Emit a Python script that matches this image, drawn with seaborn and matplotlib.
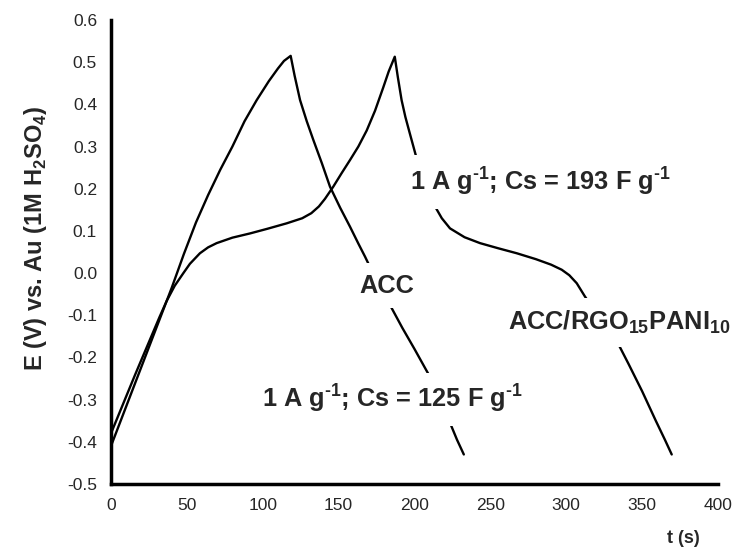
import numpy as np
import pandas as pd
import matplotlib
matplotlib.use("Agg")
import matplotlib.pyplot as plt
import seaborn as sns
from matplotlib.ticker import FormatStrFormatter

# Galvanostatic charge/discharge curves at 1 A/g
acc_t = [0, 8, 16, 24, 32, 40, 48, 56, 64, 72, 80, 88, 96, 104, 110, 114, 118.4,
         121, 124.6, 129, 133.3, 139, 144.3, 151, 157.5, 163, 167.4, 175, 183.9,
         192, 200, 210.2, 217, 223.4, 228, 232.5]
acc_e = [-0.41, -0.335, -0.26, -0.185, -0.11, -0.035, 0.045, 0.12, 0.185, 0.245,
         0.30, 0.36, 0.41, 0.455, 0.485, 0.503, 0.515,
         0.468, 0.41, 0.36, 0.316, 0.26, 0.205, 0.155, 0.11, 0.07, 0.039, -0.018,
         -0.076, -0.13, -0.18, -0.246, -0.298, -0.355, -0.395, -0.43]

rgo_t = [0, 8, 16, 24, 32, 36.7, 42, 47.7, 52, 58.6, 64, 69.6, 80, 91.6, 103,
         115.8, 126, 132, 137, 141, 146.5, 152, 157.5, 163, 168.5, 174, 179.4,
         183, 187,
         189, 191.5, 194, 197, 201.4, 206, 212.4, 218, 223.4, 233, 243.2, 255,
         267.4, 280, 290, 297, 302, 306.9, 312.4, 318, 325, 332, 341, 350, 359,
         365, 369.5]
rgo_e = [-0.38, -0.31, -0.24, -0.172, -0.104, -0.066, -0.03, 0.0, 0.022, 0.047,
         0.061, 0.071, 0.084, 0.094, 0.105, 0.118, 0.13, 0.142, 0.158, 0.176,
         0.205, 0.237, 0.268, 0.30, 0.338, 0.385, 0.44, 0.478, 0.513,
         0.465, 0.41, 0.37, 0.33, 0.272, 0.22, 0.165, 0.13, 0.106, 0.085, 0.071,
         0.059, 0.047, 0.033, 0.02, 0.008, -0.005, -0.024, -0.056, -0.085,
         -0.118, -0.152, -0.215, -0.28, -0.35, -0.395, -0.43]

x_ticks = [0, 50, 100, 150, 200, 250, 300, 350, 400]
y_ticks = [-0.5, -0.4, -0.3, -0.2, -0.1, 0.0, 0.1, 0.2, 0.3, 0.4, 0.5, 0.6]

sns.set_style("white")
plt.rcParams["font.family"] = ["Liberation Sans", "DejaVu Sans"]
plt.rcParams["mathtext.fontset"] = "custom"
plt.rcParams["mathtext.rm"] = "Liberation Sans:bold"
plt.rcParams["mathtext.bf"] = "Liberation Sans:bold"
plt.rcParams["axes.unicode_minus"] = False

fig = plt.figure(figsize=(7.38, 5.48), dpi=100)
ax = fig.add_axes([0.1504, 0.1168, 0.8225, 0.8467])

df_acc = pd.DataFrame({"t": acc_t, "E": acc_e})
df_rgo = pd.DataFrame({"t": rgo_t, "E": rgo_e})
for df in (df_acc, df_rgo):
    sns.lineplot(data=df, x="t", y="E", sort=False, estimator=None,
                 color="black", lw=1.7, ax=ax, zorder=2)

ax.set_xlim(0, 400)
ax.set_ylim(-0.5, 0.6)
ax.set_xticks(x_ticks)
ax.set_yticks(y_ticks)
ax.yaxis.set_major_formatter(FormatStrFormatter("%.1f"))
ax.tick_params(axis="both", direction="out", length=6, width=2.5,
               labelsize=12.5, labelcolor="#262626", color="black", pad=4)

for side in ("top", "right"):
    ax.spines[side].set_visible(False)
for side in ("left", "bottom"):
    ax.spines[side].set_linewidth(2.5)
    ax.spines[side].set_color("black")

ax.set_xlabel("t (s)", fontsize=13, fontweight="bold", ha="right", va="baseline")
ax.xaxis.set_label_coords(0.970, -0.127)
ax.set_ylabel(r"E (V) vs. Au (1M H$_2$SO$_4$)", fontsize=17, fontweight="bold",
              va="center")
ax.yaxis.set_label_coords(-0.125, 0.53)

box = dict(boxstyle="square,pad=0.42", fc="white", ec="none")
fs = 18.3
inv = r"$^{\text{-}1}$"
ax.text(282.7, 0.195, "1 A g" + inv + "; Cs = 193 F g" + inv, fontsize=fs,
        fontweight="bold", ha="center", va="baseline", bbox=box, zorder=3)
ax.text(181.5, -0.0465, "ACC", fontsize=fs, fontweight="bold",
        ha="center", va="baseline", bbox=box, zorder=3)
ax.text(334.8, -0.135, r"ACC/RGO$_{15}$PANI$_{10}$", fontsize=fs,
        fontweight="bold", ha="center", va="baseline", bbox=box, zorder=3,
        clip_on=False)
ax.text(271.5, -0.32, "1 A g" + inv + "; Cs = 125 F g" + inv, fontsize=fs,
        fontweight="bold", ha="right", va="baseline", bbox=box, zorder=3)

fig.savefig("out.png", dpi=100)
